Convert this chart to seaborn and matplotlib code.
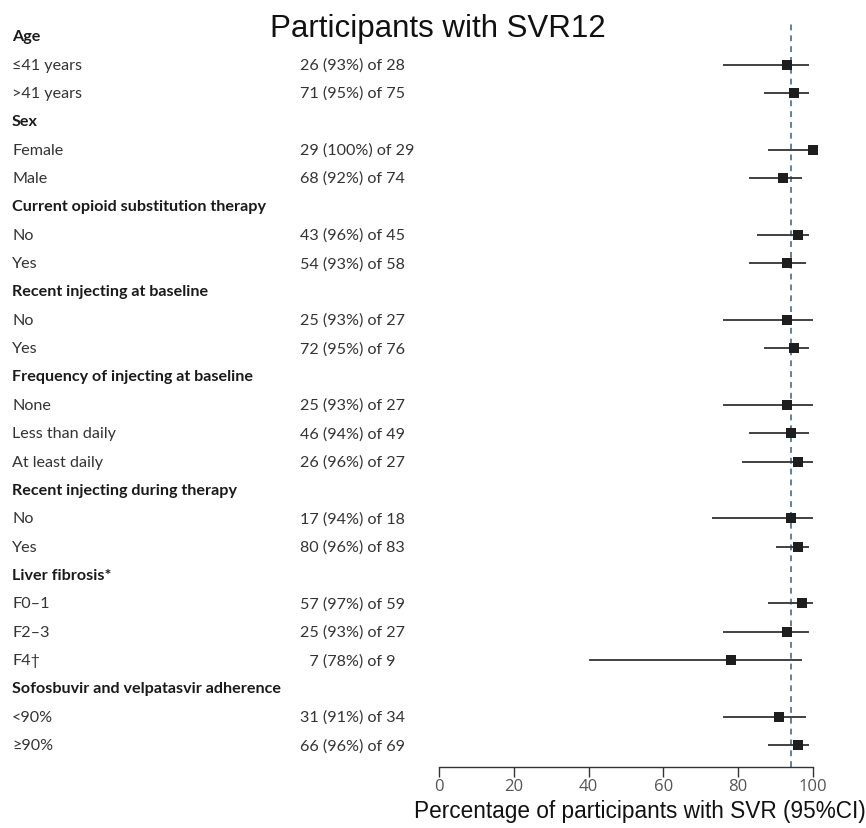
import numpy as np
import pandas as pd
import matplotlib
matplotlib.use("Agg")
import matplotlib.pyplot as plt
import matplotlib.transforms as mtransforms
import seaborn as sns

# ---- data ----
labels = ["Age", "≤41 years", ">41 years",
          "Sex", "Female", "Male",
          "Current opioid substitution therapy", "No", "Yes",
          "Recent injecting at baseline", "No", "Yes",
          "Frequency of injecting at baseline", "None", "Less than daily", "At least daily",
          "Recent injecting during therapy", "No", "Yes",
          "Liver fibrosis*", "F0–1", "F2–3", "F4†",
          "Sofosbuvir and velpatasvir adherence", "<90%", "≥90%"]
is_header = [True, False, False,
             True, False, False,
             True, False, False,
             True, False, False,
             True, False, False, False,
             True, False, False,
             True, False, False, False,
             True, False, False]
counts = ["", "26 (93%) of 28", "71 (95%) of 75",
          "", "29 (100%) of 29", "68 (92%) of 74",
          "", "43 (96%) of 45", "54 (93%) of 58",
          "", "25 (93%) of 27", "72 (95%) of 76",
          "", "25 (93%) of 27", "46 (94%) of 49", "26 (96%) of 27",
          "", "17 (94%) of 18", "80 (96%) of 83",
          "", "57 (97%) of 59", "25 (93%) of 27", "\u20077 (78%) of 9",
          "", "31 (91%) of 34", "66 (96%) of 69"]
nan = np.nan
estimate = [nan, 93, 95, nan, 100, 92, nan, 96, 93, nan, 93, 95,
            nan, 93, 94, 96, nan, 94, 96, nan, 97, 93, 78, nan, 91, 96]
lower = [nan, 76, 87, nan, 88, 83, nan, 85, 83, nan, 76, 87,
         nan, 76, 83, 81, nan, 73, 90, nan, 88, 76, 40, nan, 76, 88]
upper = [nan, 99, 99, nan, 100, 97, nan, 99, 98, nan, 100, 99,
         nan, 100, 99, 100, nan, 100, 99, nan, 100, 99, 97, nan, 98, 99]
overall = 94
xticks = [0, 20, 40, 60, 80, 100]
title = "Participants with SVR12"
xlabel = "Percentage of participants with SVR (95%CI)"

df = pd.DataFrame({"row": np.arange(len(labels)), "label": labels,
                   "est": estimate, "lo": lower, "hi": upper})

sns.set_theme(style="white")
label_fonts = ["Lato", "DejaVu Sans"]

W, H = 866, 829
fig = plt.figure(figsize=(W / 100, H / 100), dpi=100)
ax = fig.add_axes([439 / W, 1 - 768 / H, (813 - 439) / W, (768 - 23) / H])

n = len(labels)
ax.set_ylim(n - 1 + 0.77, -0.5)
ax.set_xlim(0, 100)

# overall reference line
ax.axvline(overall, color="#4d6b80", lw=1.2, ls=(0, (3.5, 3)), zorder=1)

d = df.dropna()
ax.hlines(d["row"], d["lo"], d["hi"], color="#333333", lw=1.3, zorder=2)
sns.scatterplot(data=d, x="est", y="row", marker="s", s=50, color="#1e1e1e",
                edgecolor="#1e1e1e", linewidth=0, ax=ax, zorder=3, clip_on=False)

for s in ["top", "left", "right"]:
    ax.spines[s].set_visible(False)
ax.spines["bottom"].set_color("#333333")
ax.spines["bottom"].set_linewidth(1.0)
ax.set_xticks(xticks)
ax.set_xticklabels([str(t) for t in xticks], fontfamily=["Open Sans", "DejaVu Sans"],
                   fontsize=12, color="#555555")
ax.tick_params(axis="x", bottom=True, direction="out", length=7, width=1,
               color="#333333", pad=1)
ax.set_yticks([])
ax.set_ylabel("")
ax.set_xlabel(xlabel, fontfamily=["Liberation Sans", "DejaVu Sans"], fontsize=16.3,
              color="#111111")
ax.xaxis.label.set_va("baseline")
ax.xaxis.set_label_coords((640 - 439) / 374, -50 / 745)

trans = mtransforms.blended_transform_factory(fig.transFigure, ax.transData)
for i, (lab, hdr, c) in enumerate(zip(labels, is_header, counts)):
    fig.text(12 / W, i, lab, transform=trans, va="center", ha="left",
             fontsize=11.6, fontweight="bold" if hdr else "normal",
             color="#1a1a1a" if hdr else "#333333", family=label_fonts)
    if c:
        fig.text(300 / W, i, c, transform=trans, va="center", ha="left",
                 fontsize=11.6, color="#333333", family=label_fonts)

fig.text(438 / W, 1 - 37 / H, title, ha="center", va="baseline", fontsize=22.5,
         family=["Liberation Sans", "DejaVu Sans"], color="#111111")

fig.savefig("out.png", dpi=100)
